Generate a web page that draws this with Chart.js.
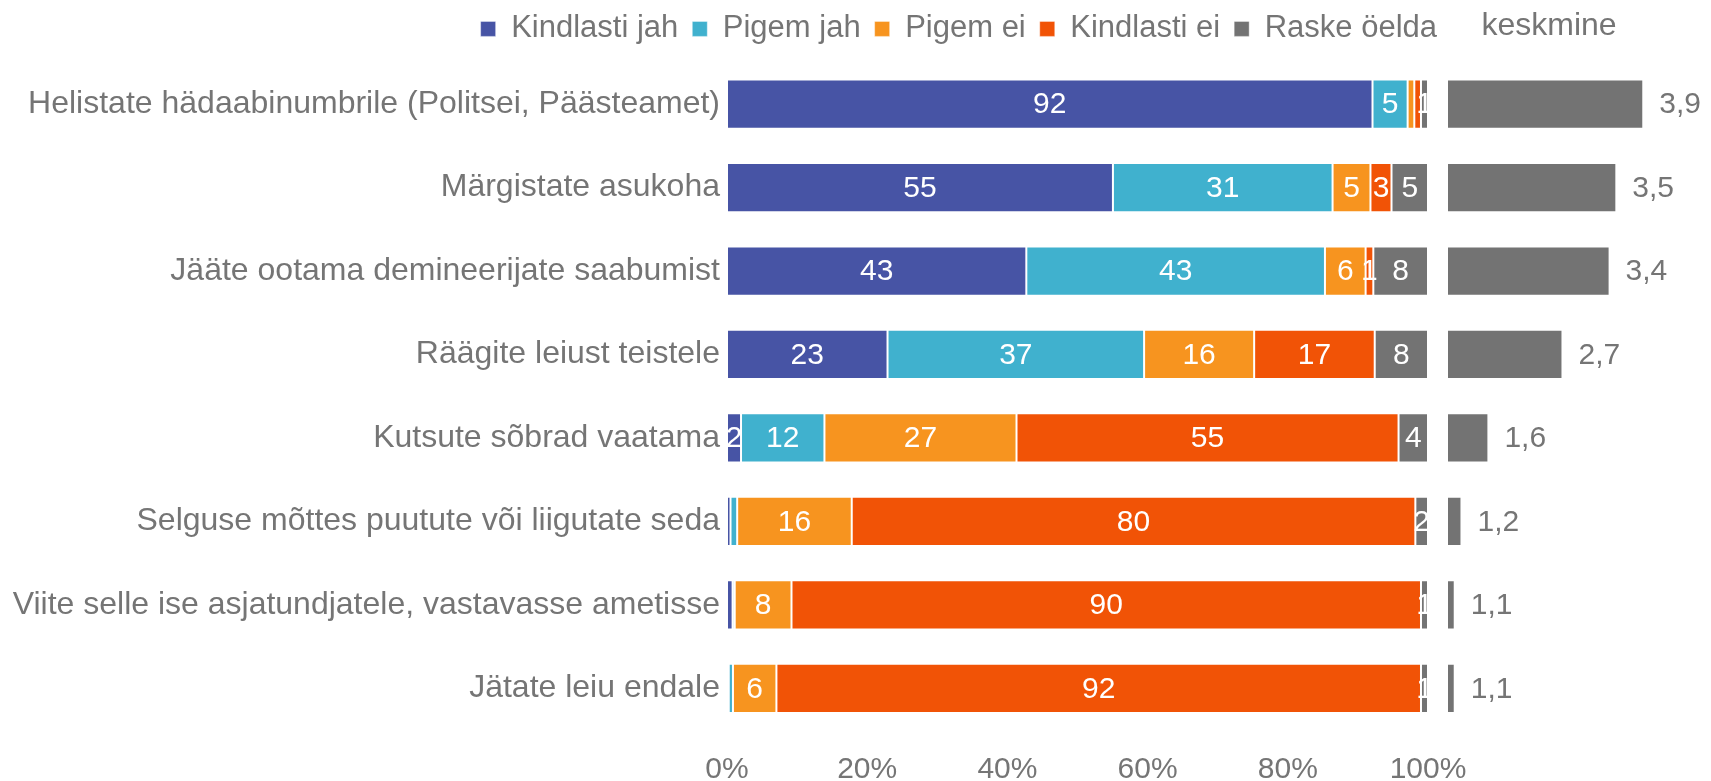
<!DOCTYPE html>
<html lang="et">
<head>
<meta charset="utf-8">
<title>Lõhkekeha leidmine</title>
<script src="https://cdn.jsdelivr.net/npm/chart.js@4.4.1/dist/chart.umd.min.js"></script>
<style>
  html, body { margin: 0; padding: 0; background: #fff; }
  #wrap { position: relative; width: 1711px; height: 781px; overflow: hidden; }
  #mainChart { position: absolute; left: 0; top: 0; }
  #meanChart { position: absolute; left: 1440px; top: 0; }
</style>
</head>
<body>
<div id="wrap">
  <canvas id="mainChart" width="1470" height="781"></canvas>
  <canvas id="meanChart" width="271" height="781"></canvas>
</div>
<script>
const categories = [
  "Helistate hädaabinumbrile (Politsei, Päästeamet)",
  "Märgistate asukoha",
  "Jääte ootama demineerijate saabumist",
  "Räägite leiust teistele",
  "Kutsute sõbrad vaatama",
  "Selguse mõttes puutute või liigutate seda",
  "Viite selle ise asjatundjatele, vastavasse ametisse",
  "Jätate leiu endale"
];
const seriesNames = ["Kindlasti jah", "Pigem jah", "Pigem ei", "Kindlasti ei", "Raske öelda"];
const seriesColors = ["#4754A5", "#40B1CE", "#F7941F", "#F15306", "#737373"];

// shares in %
const kindlastiJah = [91.9, 55, 42.7, 22.9, 2, 0.5, 0.8, 0.25];
const pigemJah = [5, 31.3, 42.6, 36.6, 11.9, 0.95, 0.3, 0.6];
const pigemEi = [0.95, 5.4, 5.8, 15.7, 27.4, 16.3, 8.1, 6.2];
const kindlastiEi = [0.95, 3, 1.1, 17.2, 54.5, 80.2, 89.8, 91.95];
const raskeOelda = [1, 5.2, 7.8, 7.6, 4.2, 1.8, 1, 1];
const keskmine = [3.9, 3.5, 3.4, 2.7, 1.6, 1.2, 1.1, 1.1];
const percentTicks = [0, 20, 40, 60, 80, 100];

const seriesValues = [kindlastiJah, pigemJah, pigemEi, kindlastiEi, raskeOelda];
const textGray = "#757575";
const family = '"Liberation Sans", Arial, sans-serif';

// 100% stacked: every row is scaled to its own total
const rowTotals = categories.map((_, j) => seriesValues.reduce((acc, s) => acc + s[j], 0));
const shares = seriesValues.map(s => s.map((v, j) => v / rowTotals[j] * 100));

const segmentLabels = {
  id: "segmentLabels",
  afterDatasetsDraw(chart) {
    const { ctx, chartArea } = chart;
    ctx.save();
    ctx.beginPath();
    ctx.rect(chartArea.left, chartArea.top, chartArea.right - chartArea.left, chartArea.bottom - chartArea.top);
    ctx.clip();
    ctx.font = "30px " + family;
    ctx.fillStyle = "#fff";
    ctx.textAlign = "center";
    ctx.textBaseline = "middle";
    chart.data.datasets.forEach((ds, i) => {
      chart.getDatasetMeta(i).data.forEach((bar, j) => {
        const v = seriesValues[i][j];
        if (v < 1) return;
        ctx.fillText(Math.round(v), (bar.x + bar.base) / 2, bar.y + 1);
      });
    });
    ctx.restore();
  }
};

// move the legend so it ends near the right edge of the bars, a bit higher
const legendNudge = {
  id: "legendNudge",
  afterLayout(chart) {
    const legend = chart.legend;
    const dx = 1437 - (legend.right - legend.options.labels.padding);
    legend.left += dx;
    legend.right += dx;
    legend.top -= 8;
    legend.bottom -= 8;
  }
};

const meanLabels = {
  id: "meanLabels",
  afterDatasetsDraw(chart) {
    const { ctx } = chart;
    ctx.save();
    ctx.font = "30px " + family;
    ctx.fillStyle = textGray;
    ctx.textAlign = "left";
    ctx.textBaseline = "middle";
    chart.getDatasetMeta(0).data.forEach((bar, j) => {
      ctx.fillText(keskmine[j].toFixed(1).replace(".", ","), bar.x + 16, bar.y + 1);
    });
    ctx.restore();
  }
};

new Chart(document.getElementById("mainChart"), {
  type: "bar",
  data: {
    labels: categories,
    datasets: seriesNames.map((name, i) => ({
      label: name,
      data: shares[i],
      backgroundColor: seriesColors[i],
      borderColor: "rgba(255,255,255,0.4)",
      borderWidth: 1,
      borderSkipped: false,
      categoryPercentage: 1,
      barPercentage: 0.59
    }))
  },
  options: {
    indexAxis: "y",
    responsive: false,
    animation: false,
    layout: { padding: { top: 7.4, right: 0, bottom: 0, left: 0 } },
    plugins: {
      legend: {
        position: "top",
        align: "end",
        labels: {
          boxWidth: 15,
          boxHeight: 15,
          padding: 14,
          color: textGray,
          font: { size: 31, family: family }
        }
      },
      tooltip: { enabled: false }
    },
    scales: {
      x: {
        stacked: true,
        min: 0,
        max: 100,
        grid: { display: false, drawTicks: false },
        border: { display: false },
        afterBuildTicks: s => { s.ticks = percentTicks.map(v => ({ value: v })); },
        ticks: {
          padding: 22,
          color: textGray,
          font: { size: 30, family: family },
          callback: v => v + "%"
        },
        afterFit: s => { s.height = 51; s.paddingRight = 42; }
      },
      y: {
        stacked: true,
        grid: { display: false, drawTicks: false },
        border: { display: false },
        ticks: { padding: 7, color: textGray, font: { size: 32, family: family } },
        afterFit: s => { s.width = 727; }
      }
    }
  },
  plugins: [segmentLabels, legendNudge]
});

new Chart(document.getElementById("meanChart"), {
  type: "bar",
  data: {
    labels: categories,
    datasets: [{
      label: "keskmine",
      data: keskmine,
      backgroundColor: "#737373",
      borderColor: "rgba(255,255,255,0.4)",
      borderWidth: 1,
      borderSkipped: false,
      categoryPercentage: 1,
      barPercentage: 0.59
    }]
  },
  options: {
    indexAxis: "y",
    responsive: false,
    animation: false,
    layout: { padding: { top: 0, right: 61, bottom: 51, left: 8 } },
    plugins: {
      legend: { display: false },
      tooltip: { enabled: false },
      title: {
        display: true,
        text: "keskmine",
        fullSize: false,
        color: textGray,
        font: { size: 32, weight: "normal", family: family, lineHeight: 1.2 },
        padding: { top: 6.5, bottom: 17.5 }
      }
    },
    scales: {
      x: { display: false, min: 1, max: 4 },
      y: { display: false }
    }
  },
  plugins: [meanLabels]
});
</script>
</body>
</html>
